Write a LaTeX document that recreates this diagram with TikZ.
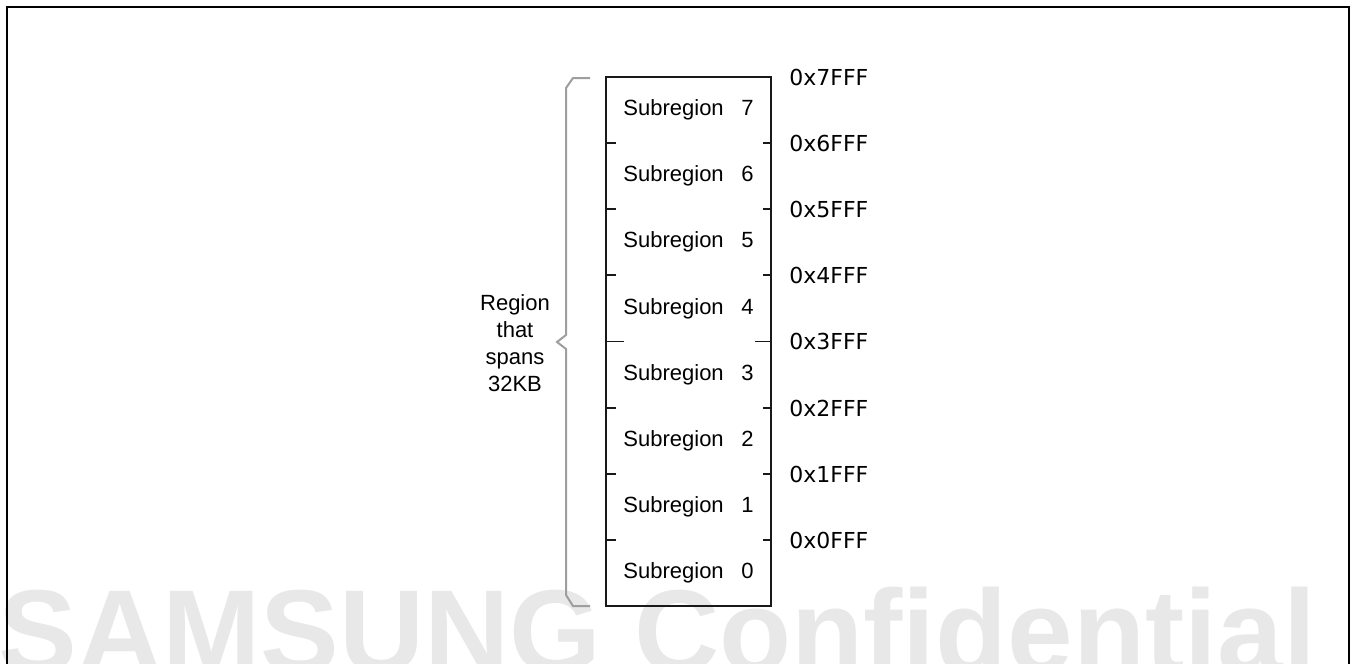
\documentclass[tikz,border=0pt]{standalone}
\usepackage{fontspec}
\setmainfont{Liberation Sans}
\newfontfamily\addrfont{DejaVu Sans}
\def\boxedge{0.75pt}
\definecolor{edgeblack}{rgb}{0.1,0.1,0.1}
\definecolor{bracegray}{rgb}{0.62,0.62,0.62}
\definecolor{markgray}{rgb}{0.91,0.91,0.91}

\begin{document}
\begin{tikzpicture}[x = 0.5pt, y = 0.5pt,
    sublabel/.style = {inner sep=0, font=\fontsize{11}{13.5}\selectfont},
    addrlabel/.style = {anchor=west, inner sep=0, font=\addrfont\fontsize{11}{13.5}\selectfont}]

            \useasboundingbox (0,0) rectangle (1355,-664);
            \clip (0,0) rectangle (1355,-664);

            % watermark
            \node [anchor=base west, inner sep=0, text=markgray,
                   font=\fontsize{59}{59}\selectfont\bfseries] (mark) at (-2,-672) {SAMSUNG Confidential};

            % frame
            \coordinate (f1) at (6.5,-690);
            \coordinate (f2) at (6.5,-6.5);
            \coordinate (f3) at (1348.5,-6.5);
            \coordinate (f4) at (1348.5,-690);
            \draw [line width=1pt] (f1) -- (f2) -- (f3) -- (f4);

            % region box
            \coordinate (top left) at (606,-77);
            \coordinate (bottom right) at (771,-606);
            \draw [line width=\boxedge, color=edgeblack] (top left) rectangle (bottom right);

            \coordinate (l7) at (606,-143);
            \coordinate (l6) at (606,-209);
            \coordinate (l5) at (606,-275);
            \coordinate (l4) at (606,-341.5);
            \coordinate (l3) at (606,-408);
            \coordinate (l2) at (606,-474);
            \coordinate (l1) at (606,-540);

            \coordinate (r7) at (771,-143);
            \coordinate (r6) at (771,-209);
            \coordinate (r5) at (771,-275);
            \coordinate (r4) at (771,-341.5);
            \coordinate (r3) at (771,-408);
            \coordinate (r2) at (771,-474);
            \coordinate (r1) at (771,-540);

            \draw [line width=\boxedge, color=edgeblack] (l7) -- ++(10,0);
            \draw [line width=\boxedge, color=edgeblack] (l6) -- ++(10,0);
            \draw [line width=\boxedge, color=edgeblack] (l5) -- ++(10,0);
            \draw [line width=\boxedge, color=edgeblack] (l4) -- ++(18,0);
            \draw [line width=\boxedge, color=edgeblack] (l3) -- ++(10,0);
            \draw [line width=\boxedge, color=edgeblack] (l2) -- ++(10,0);
            \draw [line width=\boxedge, color=edgeblack] (l1) -- ++(10,0);

            \draw [line width=\boxedge, color=edgeblack] (r7) -- ++(-8,0);
            \draw [line width=\boxedge, color=edgeblack] (r6) -- ++(-8,0);
            \draw [line width=\boxedge, color=edgeblack] (r5) -- ++(-8,0);
            \draw [line width=\boxedge, color=edgeblack] (r4) -- ++(-16,0);
            \draw [line width=\boxedge, color=edgeblack] (r3) -- ++(-8,0);
            \draw [line width=\boxedge, color=edgeblack] (r2) -- ++(-8,0);
            \draw [line width=\boxedge, color=edgeblack] (r1) -- ++(-8,0);

            % subregions
            \node [sublabel] (s7) at (688.5,-110) {Subregion\hspace{0.8em}7};
            \node [sublabel] (s6) at (688.5,-176) {Subregion\hspace{0.8em}6};
            \node [sublabel] (s5) at (688.5,-242) {Subregion\hspace{0.8em}5};
            \node [sublabel] (s4) at (688.5,-308.5) {Subregion\hspace{0.8em}4};
            \node [sublabel] (s3) at (688.5,-374.5) {Subregion\hspace{0.8em}3};
            \node [sublabel] (s2) at (688.5,-441) {Subregion\hspace{0.8em}2};
            \node [sublabel] (s1) at (688.5,-507) {Subregion\hspace{0.8em}1};
            \node [sublabel] (s0) at (688.5,-573) {Subregion\hspace{0.8em}0};

            % addresses
            \node [addrlabel] (a7) at (789,-77) {0x7FFF};
            \node [addrlabel] (a6) at (789,-143) {0x6FFF};
            \node [addrlabel] (a5) at (789,-209) {0x5FFF};
            \node [addrlabel] (a4) at (789,-275) {0x4FFF};
            \node [addrlabel] (a3) at (789,-341.5) {0x3FFF};
            \node [addrlabel] (a2) at (789,-408) {0x2FFF};
            \node [addrlabel] (a1) at (789,-474) {0x1FFF};
            \node [addrlabel] (a0) at (789,-540) {0x0FFF};

            % brace
            \coordinate (b1) at (590,-78);
            \coordinate (b2) at (573,-78);
            \coordinate (b3) at (566,-88);
            \coordinate (b4) at (566,-335);
            \coordinate (tip) at (557,-342);
            \coordinate (b5) at (566,-349);
            \coordinate (b6) at (566,-595);
            \coordinate (b7) at (573,-606);
            \coordinate (b8) at (590,-606);
            \draw [line width=1pt, color=bracegray] (b1) -- (b2) -- (b3) -- (b4) -- (tip) -- (b5) -- (b6) -- (b7) -- (b8);

            \node [sublabel, align=center] (region) at (515,-343) {Region\\that\\spans\\32KB};

\end{tikzpicture}
\end{document}
